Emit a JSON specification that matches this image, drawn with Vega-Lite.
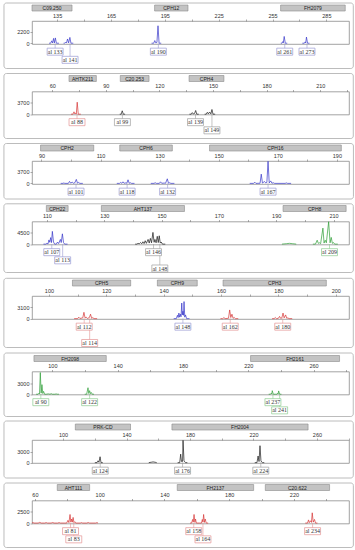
{
"$schema": "https://vega.github.io/schema/vega-lite/v6.json",
"background": "white",
"padding": {"left": 3, "top": 2, "right": 0, "bottom": 0},
"spacing": 2.5,
"config": {
  "view": {"stroke": "#8c8c8c", "strokeWidth": 0.8},
  "axis": {"labelFont": "Liberation Sans", "labelFontSize": 5.5, "labelColor": "#333", "tickColor": "#777", "tickSize": 2, "tickWidth": 0.6, "labelPadding": 1, "domain": false, "grid": false}
},
"datasets": {
"markers": [
{"p":1,"name":"C09.250","start":121.0,"end":143.3},{"p":1,"name":"CPH12","start":189.3,"end":207.9},{"p":1,"name":"FH2079","start":259.5,"end":295.5},
{"p":2,"name":"AHTK211","start":69.4,"end":84.7},{"p":2,"name":"C20.253","start":98.1,"end":114.2},{"p":2,"name":"CPH4","start":136.6,"end":156.1},
{"p":3,"name":"CPH2","start":89.7,"end":107.7},{"p":3,"name":"CPH6","start":116.5,"end":134.3},{"p":3,"name":"CPH16","start":146.9,"end":191.5},
{"p":4,"name":"CPH22","start":109.8,"end":117.4},{"p":4,"name":"AHT137","start":129.0,"end":158.0},{"p":4,"name":"CPH8","start":192.4,"end":214.4},
{"p":5,"name":"CPH5","start":108.2,"end":128.5},{"p":5,"name":"CPH9","start":137.8,"end":151.7},{"p":5,"name":"CPH3","start":160.7,"end":196.7},
{"p":6,"name":"FH2098","start":88.7,"end":133.0},{"p":6,"name":"FH2161","start":221.4,"end":275.9},
{"p":7,"name":"PRK-CD","start":107.7,"end":142.5},{"p":7,"name":"FH2004","start":168.6,"end":254.4},
{"p":8,"name":"AHT111","start":73.8,"end":93.8},{"p":8,"name":"FH2137","start":147.9,"end":195.1},{"p":8,"name":"C20.622","start":202.3,"end":242.0}
],
"alleles": [
{"p":1,"bp":133.9,"label":"al 133","row":1,"dye":"blue"},
{"p":1,"bp":142.2,"label":"al 141","row":2,"dye":"blue"},
{"p":1,"bp":191.4,"label":"al 190","row":1,"dye":"blue"},
{"p":1,"bp":261.8,"label":"al 261","row":1,"dye":"blue"},
{"p":1,"bp":274.2,"label":"al 273","row":1,"dye":"blue"},
{"p":2,"bp":73.9,"label":"al 88","row":1,"dye":"red"},
{"p":2,"bp":99.3,"label":"al 99","row":1,"dye":"black"},
{"p":2,"bp":140.2,"label":"al 139","row":1,"dye":"black"},
{"p":2,"bp":149.4,"label":"al 149","row":2,"dye":"black"},
{"p":3,"bp":101.7,"label":"al 101","row":1,"dye":"blue"},
{"p":3,"bp":119.0,"label":"al 118","row":1,"dye":"blue"},
{"p":3,"bp":132.7,"label":"al 132","row":1,"dye":"blue"},
{"p":3,"bp":166.7,"label":"al 167","row":1,"dye":"blue"},
{"p":4,"bp":111.7,"label":"al 107","row":1,"dye":"blue"},
{"p":4,"bp":115.5,"label":"al 113","row":2,"dye":"blue"},
{"p":4,"bp":147.2,"label":"al 146","row":1,"dye":"black"},
{"p":4,"bp":149.4,"label":"al 148","row":3,"dye":"black"},
{"p":4,"bp":208.6,"label":"al 209","row":1,"dye":"green"},
{"p":5,"bp":112.3,"label":"al 112","row":1,"dye":"red"},
{"p":5,"bp":114.2,"label":"al 114","row":3,"dye":"red"},
{"p":5,"bp":146.7,"label":"al 148","row":1,"dye":"blue"},
{"p":5,"bp":163.2,"label":"al 162","row":1,"dye":"red"},
{"p":5,"bp":181.5,"label":"al 180","row":1,"dye":"red"},
{"p":6,"bp":92.9,"label":"al 90","row":1,"dye":"green"},
{"p":6,"bp":122.8,"label":"al 122","row":1,"dye":"green"},
{"p":6,"bp":235.1,"label":"al 237","row":1,"dye":"green"},
{"p":6,"bp":239.2,"label":"al 241","row":2,"dye":"green"},
{"p":7,"bp":123.4,"label":"al 124","row":1,"dye":"black"},
{"p":7,"bp":175.3,"label":"al 176","row":1,"dye":"black"},
{"p":7,"bp":224.6,"label":"al 224","row":1,"dye":"black"},
{"p":8,"bp":82.0,"label":"al 81","row":1,"dye":"red"},
{"p":8,"bp":84.0,"label":"al 83","row":2,"dye":"red"},
{"p":8,"bp":158.1,"label":"al 158","row":1,"dye":"red"},
{"p":8,"bp":163.8,"label":"al 164","row":2,"dye":"red"},
{"p":8,"bp":231.5,"label":"al 234","row":1,"dye":"red"}
],
"trace": [
{"p":1,"c":"1a","dye":"blue","bp":130.5,"rfu":0},{"p":1,"c":"1a","dye":"blue","bp":131.4,"rfu":0},{"p":1,"c":"1a","dye":"blue","bp":132.0,"rfu":450},{"p":1,"c":"1a","dye":"blue","bp":132.5,"rfu":40},{"p":1,"c":"1a","dye":"blue","bp":133.0,"rfu":900},{"p":1,"c":"1a","dye":"blue","bp":133.5,"rfu":60},{"p":1,"c":"1a","dye":"blue","bp":134.0,"rfu":1000},{"p":1,"c":"1a","dye":"blue","bp":134.6,"rfu":0},{"p":1,"c":"1a","dye":"blue","bp":136.0,"rfu":0},
{"p":1,"c":"1b","dye":"blue","bp":138.6,"rfu":0},{"p":1,"c":"1b","dye":"blue","bp":139.2,"rfu":0},{"p":1,"c":"1b","dye":"blue","bp":139.7,"rfu":200},{"p":1,"c":"1b","dye":"blue","bp":140.2,"rfu":30},{"p":1,"c":"1b","dye":"blue","bp":140.8,"rfu":800},{"p":1,"c":"1b","dye":"blue","bp":141.4,"rfu":60},{"p":1,"c":"1b","dye":"blue","bp":142.1,"rfu":1100},{"p":1,"c":"1b","dye":"blue","bp":142.7,"rfu":0},{"p":1,"c":"1b","dye":"blue","bp":144.0,"rfu":0},
{"p":1,"c":"1c","dye":"blue","bp":187.6,"rfu":0},{"p":1,"c":"1c","dye":"blue","bp":188.8,"rfu":0},{"p":1,"c":"1c","dye":"blue","bp":189.4,"rfu":500},{"p":1,"c":"1c","dye":"blue","bp":190.0,"rfu":50},{"p":1,"c":"1c","dye":"blue","bp":190.6,"rfu":150},{"p":1,"c":"1c","dye":"blue","bp":191.2,"rfu":3300},{"p":1,"c":"1c","dye":"blue","bp":191.8,"rfu":0},{"p":1,"c":"1c","dye":"blue","bp":193.0,"rfu":0},
{"p":1,"c":"1d","dye":"blue","bp":259.6,"rfu":0},{"p":1,"c":"1d","dye":"blue","bp":260.2,"rfu":0},{"p":1,"c":"1d","dye":"blue","bp":260.7,"rfu":300},{"p":1,"c":"1d","dye":"blue","bp":261.0,"rfu":60},{"p":1,"c":"1d","dye":"blue","bp":261.5,"rfu":1280},{"p":1,"c":"1d","dye":"blue","bp":262.1,"rfu":0},{"p":1,"c":"1d","dye":"blue","bp":263.2,"rfu":0},
{"p":1,"c":"1e","dye":"blue","bp":271.6,"rfu":0},{"p":1,"c":"1e","dye":"blue","bp":272.7,"rfu":0},{"p":1,"c":"1e","dye":"blue","bp":273.2,"rfu":250},{"p":1,"c":"1e","dye":"blue","bp":273.5,"rfu":60},{"p":1,"c":"1e","dye":"blue","bp":273.9,"rfu":1160},{"p":1,"c":"1e","dye":"blue","bp":274.5,"rfu":0},{"p":1,"c":"1e","dye":"blue","bp":275.6,"rfu":0},
{"p":2,"c":"2a","dye":"red","bp":70.5,"rfu":0},{"p":2,"c":"2a","dye":"red","bp":71.6,"rfu":0},{"p":2,"c":"2a","dye":"red","bp":72.2,"rfu":750},{"p":2,"c":"2a","dye":"red","bp":72.7,"rfu":80},{"p":2,"c":"2a","dye":"red","bp":73.1,"rfu":400},{"p":2,"c":"2a","dye":"red","bp":73.5,"rfu":100},{"p":2,"c":"2a","dye":"red","bp":74.0,"rfu":3800},{"p":2,"c":"2a","dye":"red","bp":74.6,"rfu":0},{"p":2,"c":"2a","dye":"red","bp":76.0,"rfu":0},
{"p":2,"c":"2b","dye":"black","bp":97.8,"rfu":0},{"p":2,"c":"2b","dye":"black","bp":98.6,"rfu":0},{"p":2,"c":"2b","dye":"black","bp":99.2,"rfu":1080},{"p":2,"c":"2b","dye":"black","bp":99.8,"rfu":0},{"p":2,"c":"2b","dye":"black","bp":100.8,"rfu":0},
{"p":2,"c":"2c","dye":"black","bp":136.8,"rfu":0},{"p":2,"c":"2c","dye":"black","bp":137.8,"rfu":0},{"p":2,"c":"2c","dye":"black","bp":138.4,"rfu":500},{"p":2,"c":"2c","dye":"black","bp":139.0,"rfu":60},{"p":2,"c":"2c","dye":"black","bp":139.7,"rfu":250},{"p":2,"c":"2c","dye":"black","bp":140.3,"rfu":1170},{"p":2,"c":"2c","dye":"black","bp":140.9,"rfu":0},{"p":2,"c":"2c","dye":"black","bp":142.0,"rfu":0},
{"p":2,"c":"2d","dye":"black","bp":145.3,"rfu":0},{"p":2,"c":"2d","dye":"black","bp":146.2,"rfu":0},{"p":2,"c":"2d","dye":"black","bp":146.8,"rfu":600},{"p":2,"c":"2d","dye":"black","bp":147.4,"rfu":100},{"p":2,"c":"2d","dye":"black","bp":148.1,"rfu":700},{"p":2,"c":"2d","dye":"black","bp":148.8,"rfu":100},{"p":2,"c":"2d","dye":"black","bp":149.4,"rfu":1490},{"p":2,"c":"2d","dye":"black","bp":150.0,"rfu":0},{"p":2,"c":"2d","dye":"black","bp":151.2,"rfu":0},
{"p":3,"c":"3a","dye":"blue","bp":96.5,"rfu":0},{"p":3,"c":"3a","dye":"blue","bp":97.3,"rfu":0},{"p":3,"c":"3a","dye":"blue","bp":97.6,"rfu":150},{"p":3,"c":"3a","dye":"blue","bp":97.9,"rfu":0},{"p":3,"c":"3a","dye":"blue","bp":99.1,"rfu":0},{"p":3,"c":"3a","dye":"blue","bp":99.5,"rfu":640},{"p":3,"c":"3a","dye":"blue","bp":99.9,"rfu":80},{"p":3,"c":"3a","dye":"blue","bp":100.4,"rfu":400},{"p":3,"c":"3a","dye":"blue","bp":100.8,"rfu":50},{"p":3,"c":"3a","dye":"blue","bp":101.3,"rfu":200},{"p":3,"c":"3a","dye":"blue","bp":101.8,"rfu":1280},{"p":3,"c":"3a","dye":"blue","bp":102.2,"rfu":80},{"p":3,"c":"3a","dye":"blue","bp":102.6,"rfu":300},{"p":3,"c":"3a","dye":"blue","bp":103.0,"rfu":0},{"p":3,"c":"3a","dye":"blue","bp":104.0,"rfu":0},
{"p":3,"c":"3b","dye":"blue","bp":115.5,"rfu":0},{"p":3,"c":"3b","dye":"blue","bp":116.4,"rfu":0},{"p":3,"c":"3b","dye":"blue","bp":116.8,"rfu":300},{"p":3,"c":"3b","dye":"blue","bp":117.2,"rfu":50},{"p":3,"c":"3b","dye":"blue","bp":117.6,"rfu":500},{"p":3,"c":"3b","dye":"blue","bp":118.0,"rfu":60},{"p":3,"c":"3b","dye":"blue","bp":118.5,"rfu":150},{"p":3,"c":"3b","dye":"blue","bp":118.9,"rfu":80},{"p":3,"c":"3b","dye":"blue","bp":119.3,"rfu":1150},{"p":3,"c":"3b","dye":"blue","bp":119.7,"rfu":60},{"p":3,"c":"3b","dye":"blue","bp":120.1,"rfu":200},{"p":3,"c":"3b","dye":"blue","bp":120.5,"rfu":0},{"p":3,"c":"3b","dye":"blue","bp":121.5,"rfu":0},
{"p":3,"c":"3c","dye":"blue","bp":127.0,"rfu":0},{"p":3,"c":"3c","dye":"blue","bp":128.1,"rfu":0},{"p":3,"c":"3c","dye":"blue","bp":128.5,"rfu":200},{"p":3,"c":"3c","dye":"blue","bp":128.9,"rfu":0},{"p":3,"c":"3c","dye":"blue","bp":129.9,"rfu":0},{"p":3,"c":"3c","dye":"blue","bp":130.3,"rfu":500},{"p":3,"c":"3c","dye":"blue","bp":130.7,"rfu":40},{"p":3,"c":"3c","dye":"blue","bp":131.6,"rfu":100},{"p":3,"c":"3c","dye":"blue","bp":132.0,"rfu":40},{"p":3,"c":"3c","dye":"blue","bp":132.6,"rfu":1470},{"p":3,"c":"3c","dye":"blue","bp":133.0,"rfu":60},{"p":3,"c":"3c","dye":"blue","bp":133.4,"rfu":200},{"p":3,"c":"3c","dye":"blue","bp":133.8,"rfu":0},{"p":3,"c":"3c","dye":"blue","bp":135.0,"rfu":0},
{"p":3,"c":"3d","dye":"blue","bp":160.5,"rfu":0},{"p":3,"c":"3d","dye":"blue","bp":161.8,"rfu":0},{"p":3,"c":"3d","dye":"blue","bp":162.2,"rfu":400},{"p":3,"c":"3d","dye":"blue","bp":162.6,"rfu":0},{"p":3,"c":"3d","dye":"blue","bp":164.0,"rfu":50},{"p":3,"c":"3d","dye":"blue","bp":164.4,"rfu":2970},{"p":3,"c":"3d","dye":"blue","bp":164.8,"rfu":100},{"p":3,"c":"3d","dye":"blue","bp":165.5,"rfu":600},{"p":3,"c":"3d","dye":"blue","bp":165.9,"rfu":150},{"p":3,"c":"3d","dye":"blue","bp":166.3,"rfu":300},{"p":3,"c":"3d","dye":"blue","bp":166.7,"rfu":7100},{"p":3,"c":"3d","dye":"blue","bp":167.1,"rfu":150},{"p":3,"c":"3d","dye":"blue","bp":167.6,"rfu":800},{"p":3,"c":"3d","dye":"blue","bp":168.0,"rfu":60},{"p":3,"c":"3d","dye":"blue","bp":168.5,"rfu":200},{"p":3,"c":"3d","dye":"blue","bp":168.9,"rfu":0},{"p":3,"c":"3d","dye":"blue","bp":172.5,"rfu":0},{"p":3,"c":"3d","dye":"blue","bp":172.9,"rfu":150},{"p":3,"c":"3d","dye":"blue","bp":173.3,"rfu":0},{"p":3,"c":"3d","dye":"blue","bp":174.5,"rfu":0},
{"p":4,"c":"4a","dye":"blue","bp":108.8,"rfu":0},{"p":4,"c":"4a","dye":"blue","bp":109.6,"rfu":0},{"p":4,"c":"4a","dye":"blue","bp":110.0,"rfu":300},{"p":4,"c":"4a","dye":"blue","bp":110.4,"rfu":100},{"p":4,"c":"4a","dye":"blue","bp":110.7,"rfu":1600},{"p":4,"c":"4a","dye":"blue","bp":111.0,"rfu":700},{"p":4,"c":"4a","dye":"blue","bp":111.3,"rfu":2500},{"p":4,"c":"4a","dye":"blue","bp":111.6,"rfu":600},{"p":4,"c":"4a","dye":"blue","bp":111.9,"rfu":4900},{"p":4,"c":"4a","dye":"blue","bp":112.3,"rfu":800},{"p":4,"c":"4a","dye":"blue","bp":112.7,"rfu":0},{"p":4,"c":"4a","dye":"blue","bp":113.3,"rfu":0},{"p":4,"c":"4a","dye":"blue","bp":113.7,"rfu":800},{"p":4,"c":"4a","dye":"blue","bp":114.1,"rfu":200},{"p":4,"c":"4a","dye":"blue","bp":114.7,"rfu":1800},{"p":4,"c":"4a","dye":"blue","bp":115.0,"rfu":600},{"p":4,"c":"4a","dye":"blue","bp":115.4,"rfu":3960},{"p":4,"c":"4a","dye":"blue","bp":115.8,"rfu":600},{"p":4,"c":"4a","dye":"blue","bp":116.2,"rfu":0},{"p":4,"c":"4a","dye":"blue","bp":117.2,"rfu":0},
{"p":4,"c":"4b","dye":"black","bp":140.8,"rfu":0},{"p":4,"c":"4b","dye":"black","bp":141.4,"rfu":0},{"p":4,"c":"4b","dye":"black","bp":141.8,"rfu":300},{"p":4,"c":"4b","dye":"black","bp":142.2,"rfu":100},{"p":4,"c":"4b","dye":"black","bp":142.7,"rfu":600},{"p":4,"c":"4b","dye":"black","bp":143.1,"rfu":150},{"p":4,"c":"4b","dye":"black","bp":143.5,"rfu":900},{"p":4,"c":"4b","dye":"black","bp":143.9,"rfu":200},{"p":4,"c":"4b","dye":"black","bp":144.3,"rfu":1300},{"p":4,"c":"4b","dye":"black","bp":144.7,"rfu":300},{"p":4,"c":"4b","dye":"black","bp":145.3,"rfu":1800},{"p":4,"c":"4b","dye":"black","bp":145.7,"rfu":400},{"p":4,"c":"4b","dye":"black","bp":146.1,"rfu":2200},{"p":4,"c":"4b","dye":"black","bp":146.5,"rfu":500},{"p":4,"c":"4b","dye":"black","bp":147.0,"rfu":4500},{"p":4,"c":"4b","dye":"black","bp":147.4,"rfu":700},{"p":4,"c":"4b","dye":"black","bp":147.7,"rfu":1800},{"p":4,"c":"4b","dye":"black","bp":148.1,"rfu":500},{"p":4,"c":"4b","dye":"black","bp":148.5,"rfu":3000},{"p":4,"c":"4b","dye":"black","bp":148.85,"rfu":600},{"p":4,"c":"4b","dye":"black","bp":149.2,"rfu":3200},{"p":4,"c":"4b","dye":"black","bp":149.55,"rfu":400},{"p":4,"c":"4b","dye":"black","bp":149.9,"rfu":800},{"p":4,"c":"4b","dye":"black","bp":150.3,"rfu":0},{"p":4,"c":"4b","dye":"black","bp":151.3,"rfu":0},
{"p":4,"c":"4c","dye":"green","bp":192.0,"rfu":0},{"p":4,"c":"4c","dye":"green","bp":193.5,"rfu":150},{"p":4,"c":"4c","dye":"green","bp":194.6,"rfu":300},{"p":4,"c":"4c","dye":"green","bp":195.8,"rfu":150},{"p":4,"c":"4c","dye":"green","bp":197.0,"rfu":0},
{"p":4,"c":"4d","dye":"green","bp":202.8,"rfu":0},{"p":4,"c":"4d","dye":"green","bp":203.7,"rfu":0},{"p":4,"c":"4d","dye":"green","bp":204.3,"rfu":1500},{"p":4,"c":"4d","dye":"green","bp":204.7,"rfu":300},{"p":4,"c":"4d","dye":"green","bp":205.1,"rfu":500},{"p":4,"c":"4d","dye":"green","bp":205.5,"rfu":200},{"p":4,"c":"4d","dye":"green","bp":206.3,"rfu":6160},{"p":4,"c":"4d","dye":"green","bp":206.7,"rfu":400},{"p":4,"c":"4d","dye":"green","bp":207.1,"rfu":1500},{"p":4,"c":"4d","dye":"green","bp":207.5,"rfu":500},{"p":4,"c":"4d","dye":"green","bp":208.3,"rfu":8600},{"p":4,"c":"4d","dye":"green","bp":208.8,"rfu":500},{"p":4,"c":"4d","dye":"green","bp":209.2,"rfu":2580},{"p":4,"c":"4d","dye":"green","bp":209.6,"rfu":300},{"p":4,"c":"4d","dye":"green","bp":210.0,"rfu":600},{"p":4,"c":"4d","dye":"green","bp":210.4,"rfu":0},{"p":4,"c":"4d","dye":"green","bp":211.5,"rfu":0},
{"p":5,"c":"5a","dye":"red","bp":108.8,"rfu":0},{"p":5,"c":"5a","dye":"red","bp":110.0,"rfu":0},{"p":5,"c":"5a","dye":"red","bp":110.4,"rfu":400},{"p":5,"c":"5a","dye":"red","bp":110.8,"rfu":50},{"p":5,"c":"5a","dye":"red","bp":111.8,"rfu":200},{"p":5,"c":"5a","dye":"red","bp":112.2,"rfu":1700},{"p":5,"c":"5a","dye":"red","bp":112.6,"rfu":200},{"p":5,"c":"5a","dye":"red","bp":113.0,"rfu":400},{"p":5,"c":"5a","dye":"red","bp":113.4,"rfu":50},{"p":5,"c":"5a","dye":"red","bp":114.1,"rfu":300},{"p":5,"c":"5a","dye":"red","bp":114.5,"rfu":1200},{"p":5,"c":"5a","dye":"red","bp":114.9,"rfu":80},{"p":5,"c":"5a","dye":"red","bp":115.3,"rfu":300},{"p":5,"c":"5a","dye":"red","bp":115.7,"rfu":0},{"p":5,"c":"5a","dye":"red","bp":116.8,"rfu":0},
{"p":5,"c":"5b","dye":"blue","bp":143.5,"rfu":0},{"p":5,"c":"5b","dye":"blue","bp":144.4,"rfu":0},{"p":5,"c":"5b","dye":"blue","bp":144.8,"rfu":900},{"p":5,"c":"5b","dye":"blue","bp":145.05,"rfu":300},{"p":5,"c":"5b","dye":"blue","bp":145.3,"rfu":1500},{"p":5,"c":"5b","dye":"blue","bp":145.55,"rfu":400},{"p":5,"c":"5b","dye":"blue","bp":145.8,"rfu":1200},{"p":5,"c":"5b","dye":"blue","bp":146.05,"rfu":500},{"p":5,"c":"5b","dye":"blue","bp":146.3,"rfu":4200},{"p":5,"c":"5b","dye":"blue","bp":146.5,"rfu":1000},{"p":5,"c":"5b","dye":"blue","bp":146.7,"rfu":2000},{"p":5,"c":"5b","dye":"blue","bp":146.9,"rfu":900},{"p":5,"c":"5b","dye":"blue","bp":147.1,"rfu":4600},{"p":5,"c":"5b","dye":"blue","bp":147.35,"rfu":400},{"p":5,"c":"5b","dye":"blue","bp":147.6,"rfu":1000},{"p":5,"c":"5b","dye":"blue","bp":148.0,"rfu":0},{"p":5,"c":"5b","dye":"blue","bp":149.0,"rfu":0},
{"p":5,"c":"5c","dye":"red","bp":159.8,"rfu":0},{"p":5,"c":"5c","dye":"red","bp":160.6,"rfu":0},{"p":5,"c":"5c","dye":"red","bp":161.0,"rfu":300},{"p":5,"c":"5c","dye":"red","bp":161.4,"rfu":0},{"p":5,"c":"5c","dye":"red","bp":162.6,"rfu":100},{"p":5,"c":"5c","dye":"red","bp":163.0,"rfu":2340},{"p":5,"c":"5c","dye":"red","bp":163.4,"rfu":300},{"p":5,"c":"5c","dye":"red","bp":163.8,"rfu":1200},{"p":5,"c":"5c","dye":"red","bp":164.2,"rfu":100},{"p":5,"c":"5c","dye":"red","bp":164.6,"rfu":300},{"p":5,"c":"5c","dye":"red","bp":165.0,"rfu":0},{"p":5,"c":"5c","dye":"red","bp":166.0,"rfu":0},
{"p":5,"c":"5d","dye":"red","bp":177.8,"rfu":0},{"p":5,"c":"5d","dye":"red","bp":178.5,"rfu":0},{"p":5,"c":"5d","dye":"red","bp":178.9,"rfu":300},{"p":5,"c":"5d","dye":"red","bp":179.3,"rfu":0},{"p":5,"c":"5d","dye":"red","bp":180.0,"rfu":100},{"p":5,"c":"5d","dye":"red","bp":180.4,"rfu":600},{"p":5,"c":"5d","dye":"red","bp":180.8,"rfu":60},{"p":5,"c":"5d","dye":"red","bp":181.2,"rfu":200},{"p":5,"c":"5d","dye":"red","bp":181.6,"rfu":1500},{"p":5,"c":"5d","dye":"red","bp":182.0,"rfu":200},{"p":5,"c":"5d","dye":"red","bp":182.5,"rfu":1000},{"p":5,"c":"5d","dye":"red","bp":182.9,"rfu":100},{"p":5,"c":"5d","dye":"red","bp":183.3,"rfu":200},{"p":5,"c":"5d","dye":"red","bp":183.7,"rfu":0},{"p":5,"c":"5d","dye":"red","bp":184.8,"rfu":0},
{"p":6,"c":"6a","dye":"green","bp":90.0,"rfu":0},{"p":6,"c":"6a","dye":"green","bp":91.2,"rfu":0},{"p":6,"c":"6a","dye":"green","bp":91.8,"rfu":300},{"p":6,"c":"6a","dye":"green","bp":92.1,"rfu":100},{"p":6,"c":"6a","dye":"green","bp":92.6,"rfu":6100},{"p":6,"c":"6a","dye":"green","bp":93.1,"rfu":300},{"p":6,"c":"6a","dye":"green","bp":93.6,"rfu":2700},{"p":6,"c":"6a","dye":"green","bp":94.1,"rfu":200},{"p":6,"c":"6a","dye":"green","bp":94.6,"rfu":800},{"p":6,"c":"6a","dye":"green","bp":95.2,"rfu":0},{"p":6,"c":"6a","dye":"green","bp":96.2,"rfu":0},{"p":6,"c":"6a","dye":"green","bp":97.5,"rfu":100},{"p":6,"c":"6a","dye":"green","bp":98.5,"rfu":0},{"p":6,"c":"6a","dye":"green","bp":99.3,"rfu":150},{"p":6,"c":"6a","dye":"green","bp":100.0,"rfu":0},{"p":6,"c":"6a","dye":"green","bp":101.5,"rfu":0},{"p":6,"c":"6a","dye":"green","bp":102.3,"rfu":80},{"p":6,"c":"6a","dye":"green","bp":103.0,"rfu":0},{"p":6,"c":"6a","dye":"green","bp":104.0,"rfu":0},
{"p":6,"c":"6b","dye":"green","bp":119.8,"rfu":0},{"p":6,"c":"6b","dye":"green","bp":121.0,"rfu":0},{"p":6,"c":"6b","dye":"green","bp":121.8,"rfu":1830},{"p":6,"c":"6b","dye":"green","bp":122.3,"rfu":200},{"p":6,"c":"6b","dye":"green","bp":122.8,"rfu":1000},{"p":6,"c":"6b","dye":"green","bp":123.3,"rfu":150},{"p":6,"c":"6b","dye":"green","bp":123.8,"rfu":500},{"p":6,"c":"6b","dye":"green","bp":124.4,"rfu":0},{"p":6,"c":"6b","dye":"green","bp":125.5,"rfu":0},
{"p":6,"c":"6c","dye":"green","bp":232.5,"rfu":0},{"p":6,"c":"6c","dye":"green","bp":233.6,"rfu":0},{"p":6,"c":"6c","dye":"green","bp":234.1,"rfu":300},{"p":6,"c":"6c","dye":"green","bp":234.4,"rfu":100},{"p":6,"c":"6c","dye":"green","bp":234.7,"rfu":1000},{"p":6,"c":"6c","dye":"green","bp":235.3,"rfu":0},{"p":6,"c":"6c","dye":"green","bp":236.8,"rfu":0},{"p":6,"c":"6c","dye":"green","bp":237.5,"rfu":0},{"p":6,"c":"6c","dye":"green","bp":238.0,"rfu":300},{"p":6,"c":"6c","dye":"green","bp":238.3,"rfu":100},{"p":6,"c":"6c","dye":"green","bp":238.6,"rfu":930},{"p":6,"c":"6c","dye":"green","bp":239.2,"rfu":0},{"p":6,"c":"6c","dye":"green","bp":240.3,"rfu":0},
{"p":7,"c":"7a","dye":"black","bp":120.0,"rfu":0},{"p":7,"c":"7a","dye":"black","bp":121.4,"rfu":0},{"p":7,"c":"7a","dye":"black","bp":122.0,"rfu":500},{"p":7,"c":"7a","dye":"black","bp":122.6,"rfu":100},{"p":7,"c":"7a","dye":"black","bp":123.3,"rfu":1600},{"p":7,"c":"7a","dye":"black","bp":123.9,"rfu":0},{"p":7,"c":"7a","dye":"black","bp":125.0,"rfu":0},
{"p":7,"c":"7b","dye":"black","bp":154.0,"rfu":0},{"p":7,"c":"7b","dye":"black","bp":155.5,"rfu":100},{"p":7,"c":"7b","dye":"black","bp":156.7,"rfu":200},{"p":7,"c":"7b","dye":"black","bp":158.0,"rfu":100},{"p":7,"c":"7b","dye":"black","bp":159.0,"rfu":0},
{"p":7,"c":"7c","dye":"black","bp":172.2,"rfu":0},{"p":7,"c":"7c","dye":"black","bp":173.5,"rfu":0},{"p":7,"c":"7c","dye":"black","bp":174.1,"rfu":2300},{"p":7,"c":"7c","dye":"black","bp":174.6,"rfu":300},{"p":7,"c":"7c","dye":"black","bp":175.0,"rfu":500},{"p":7,"c":"7c","dye":"black","bp":175.3,"rfu":300},{"p":7,"c":"7c","dye":"black","bp":175.6,"rfu":6050},{"p":7,"c":"7c","dye":"black","bp":176.2,"rfu":600},{"p":7,"c":"7c","dye":"black","bp":176.7,"rfu":200},{"p":7,"c":"7c","dye":"black","bp":177.2,"rfu":0},{"p":7,"c":"7c","dye":"black","bp":178.3,"rfu":0},
{"p":7,"c":"7d","dye":"black","bp":220.8,"rfu":0},{"p":7,"c":"7d","dye":"black","bp":222.2,"rfu":0},{"p":7,"c":"7d","dye":"black","bp":222.9,"rfu":1800},{"p":7,"c":"7d","dye":"black","bp":223.5,"rfu":300},{"p":7,"c":"7d","dye":"black","bp":224.1,"rfu":4600},{"p":7,"c":"7d","dye":"black","bp":224.7,"rfu":500},{"p":7,"c":"7d","dye":"black","bp":225.2,"rfu":150},{"p":7,"c":"7d","dye":"black","bp":225.7,"rfu":0},{"p":7,"c":"7d","dye":"black","bp":226.8,"rfu":0},
{"p":8,"c":"8a","dye":"red","bp":58.2,"rfu":0},{"p":8,"c":"8a","dye":"red","bp":58.8,"rfu":120},{"p":8,"c":"8a","dye":"red","bp":59.4,"rfu":0},{"p":8,"c":"8a","dye":"red","bp":62.0,"rfu":0},{"p":8,"c":"8a","dye":"red","bp":63.0,"rfu":150},{"p":8,"c":"8a","dye":"red","bp":63.9,"rfu":0},{"p":8,"c":"8a","dye":"red","bp":66.0,"rfu":0},{"p":8,"c":"8a","dye":"red","bp":67.0,"rfu":100},{"p":8,"c":"8a","dye":"red","bp":67.8,"rfu":0},{"p":8,"c":"8a","dye":"red","bp":70.0,"rfu":0},{"p":8,"c":"8a","dye":"red","bp":71.0,"rfu":120},{"p":8,"c":"8a","dye":"red","bp":71.8,"rfu":0},{"p":8,"c":"8a","dye":"red","bp":74.0,"rfu":0},{"p":8,"c":"8a","dye":"red","bp":75.0,"rfu":100},{"p":8,"c":"8a","dye":"red","bp":75.8,"rfu":0},{"p":8,"c":"8a","dye":"red","bp":78.5,"rfu":0},{"p":8,"c":"8a","dye":"red","bp":79.6,"rfu":0},{"p":8,"c":"8a","dye":"red","bp":80.4,"rfu":600},{"p":8,"c":"8a","dye":"red","bp":81.0,"rfu":100},{"p":8,"c":"8a","dye":"red","bp":81.7,"rfu":1900},{"p":8,"c":"8a","dye":"red","bp":82.2,"rfu":200},{"p":8,"c":"8a","dye":"red","bp":82.7,"rfu":900},{"p":8,"c":"8a","dye":"red","bp":83.1,"rfu":200},{"p":8,"c":"8a","dye":"red","bp":83.6,"rfu":1250},{"p":8,"c":"8a","dye":"red","bp":84.1,"rfu":100},{"p":8,"c":"8a","dye":"red","bp":84.6,"rfu":300},{"p":8,"c":"8a","dye":"red","bp":85.2,"rfu":0},{"p":8,"c":"8a","dye":"red","bp":88.0,"rfu":0},{"p":8,"c":"8a","dye":"red","bp":88.8,"rfu":100},{"p":8,"c":"8a","dye":"red","bp":89.5,"rfu":0},{"p":8,"c":"8a","dye":"red","bp":92.0,"rfu":0},{"p":8,"c":"8a","dye":"red","bp":93.0,"rfu":120},{"p":8,"c":"8a","dye":"red","bp":93.8,"rfu":0},{"p":8,"c":"8a","dye":"red","bp":97.5,"rfu":0},{"p":8,"c":"8a","dye":"red","bp":98.3,"rfu":90},{"p":8,"c":"8a","dye":"red","bp":99.0,"rfu":0},
{"p":8,"c":"8b","dye":"red","bp":155.8,"rfu":0},{"p":8,"c":"8b","dye":"red","bp":156.8,"rfu":0},{"p":8,"c":"8b","dye":"red","bp":157.4,"rfu":800},{"p":8,"c":"8b","dye":"red","bp":157.8,"rfu":200},{"p":8,"c":"8b","dye":"red","bp":158.3,"rfu":1900},{"p":8,"c":"8b","dye":"red","bp":158.8,"rfu":150},{"p":8,"c":"8b","dye":"red","bp":159.2,"rfu":900},{"p":8,"c":"8b","dye":"red","bp":159.7,"rfu":0},{"p":8,"c":"8b","dye":"red","bp":161.5,"rfu":0},{"p":8,"c":"8b","dye":"red","bp":162.9,"rfu":0},{"p":8,"c":"8b","dye":"red","bp":163.4,"rfu":800},{"p":8,"c":"8b","dye":"red","bp":163.8,"rfu":200},{"p":8,"c":"8b","dye":"red","bp":164.2,"rfu":1900},{"p":8,"c":"8b","dye":"red","bp":164.7,"rfu":150},{"p":8,"c":"8b","dye":"red","bp":165.2,"rfu":900},{"p":8,"c":"8b","dye":"red","bp":165.8,"rfu":0},{"p":8,"c":"8b","dye":"red","bp":167.0,"rfu":0},
{"p":8,"c":"8c","dye":"red","bp":227.0,"rfu":0},{"p":8,"c":"8c","dye":"red","bp":228.4,"rfu":0},{"p":8,"c":"8c","dye":"red","bp":229.0,"rfu":700},{"p":8,"c":"8c","dye":"red","bp":229.5,"rfu":100},{"p":8,"c":"8c","dye":"red","bp":230.3,"rfu":500},{"p":8,"c":"8c","dye":"red","bp":230.8,"rfu":150},{"p":8,"c":"8c","dye":"red","bp":231.3,"rfu":2270},{"p":8,"c":"8c","dye":"red","bp":231.9,"rfu":200},{"p":8,"c":"8c","dye":"red","bp":232.7,"rfu":800},{"p":8,"c":"8c","dye":"red","bp":233.3,"rfu":0},{"p":8,"c":"8c","dye":"red","bp":234.5,"rfu":0}
]
},
"vconcat": [
{"width":317,"height":23,"resolve":{"scale":{"y":"independent"}},"layer":[
{"data":{"values":[{"k":1}]},"transform":[{"calculate":"105.4","as":"x0"},{"calculate":"300.0","as":"x1"},{"calculate":"0","as":"t0"},{"calculate":"1","as":"t1"}],"mark":{"type":"rect","filled":false,"stroke":"#b4b4b4","strokeWidth":0.9,"cornerRadius":2.5},"encoding":{"x":{"field":"x0","type":"quantitative","scale":{"domain":[121,297.6],"nice":false,"zero":false},"axis":{"orient":"top","values":[135,150,165,180,195,210,225,240,255,270,285],"labelExpr":"(datum.value - 135) % 30 == 0 ? datum.label : ''","title":null,"labelFlush":false,"labelOverlap":false}},"x2":{"field":"x1"},"y":{"field":"t0","type":"quantitative","scale":{"domain":[0,1],"range":[-18,47.5]},"axis":null},"y2":{"field":"t1"}}},
{"data":{"name":"markers"},"transform":[{"filter":"datum.p == 1"},{"calculate":"0","as":"t0"},{"calculate":"1","as":"t1"}],"mark":{"type":"rect","fill":"#c3c3c3","stroke":"#8a8a8a","strokeWidth":0.6},"encoding":{"x":{"field":"start","type":"quantitative","scale":{"domain":[121,297.6],"nice":false,"zero":false},"axis":{"orient":"top","values":[135,150,165,180,195,210,225,240,255,270,285],"labelExpr":"(datum.value - 135) % 30 == 0 ? datum.label : ''","title":null,"labelFlush":false,"labelOverlap":false}},"x2":{"field":"end"},"y":{"field":"t0","type":"quantitative","scale":{"domain":[0,1],"range":[-16,-10]},"axis":null},"y2":{"field":"t1"}}},
{"data":{"name":"markers"},"transform":[{"filter":"datum.p == 1"},{"calculate":"(datum.start + datum.end) / 2","as":"mid"},{"calculate":"0.5","as":"tm"}],"mark":{"type":"text","font":"Liberation Sans","fontSize":5,"color":"#222","baseline":"middle"},"encoding":{"x":{"field":"mid","type":"quantitative","scale":{"domain":[121,297.6],"nice":false,"zero":false},"axis":{"orient":"top","values":[135,150,165,180,195,210,225,240,255,270,285],"labelExpr":"(datum.value - 135) % 30 == 0 ? datum.label : ''","title":null,"labelFlush":false,"labelOverlap":false}},"y":{"field":"tm","type":"quantitative","scale":{"domain":[0,1],"range":[-16,-10]},"axis":null},"text":{"field":"name","type":"nominal"}}},
{"data":{"name":"trace"},"transform":[{"filter":"datum.p == 1"}],"mark":{"type":"line","strokeWidth":0.7},"encoding":{"x":{"field":"bp","type":"quantitative","scale":{"domain":[121,297.6],"nice":false,"zero":false},"axis":{"orient":"top","values":[135,150,165,180,195,210,225,240,255,270,285],"labelExpr":"(datum.value - 135) % 30 == 0 ? datum.label : ''","title":null,"labelFlush":false,"labelOverlap":false}},"y":{"field":"rfu","type":"quantitative","scale":{"domain":[-150,4200],"nice":false,"zero":false},"axis":{"values":[0,2200],"format":"d","title":null,"labelOverlap":false}},"color":{"field":"dye","type":"nominal","scale":{"domain":["blue","red","black","green"],"range":["#3535c8","#d63333","#1a1a1a","#2e9e36"]},"legend":null},"detail":{"field":"c","type":"nominal"}}},
{"data":{"name":"alleles"},"transform":[{"filter":"datum.p == 1"},{"calculate":"0","as":"base"}],"mark":{"type":"rule","strokeWidth":0.6},"encoding":{"x":{"field":"bp","type":"quantitative","scale":{"domain":[121,297.6],"nice":false,"zero":false},"axis":{"orient":"top","values":[135,150,165,180,195,210,225,240,255,270,285],"labelExpr":"(datum.value - 135) % 30 == 0 ? datum.label : ''","title":null,"labelFlush":false,"labelOverlap":false}},"y":{"field":"row","type":"quantitative","scale":{"domain":[0,3],"range":[22.5,47]},"axis":null},"y2":{"field":"base"},"stroke":{"field":"dye","type":"nominal","scale":{"domain":["blue","red","black","green"],"range":["#9a9ad2","#e49494","#9e9e9e","#8ccb90"]},"legend":null}}},
{"data":{"name":"alleles"},"transform":[{"filter":"datum.p == 1"}],"mark":{"type":"point","shape":"M-1,-0.44L1,-0.44L1,0.44L-1,0.44Z","filled":true,"fill":"white","fillOpacity":1,"opacity":1,"strokeWidth":0.7,"size":255},"encoding":{"x":{"field":"bp","type":"quantitative","scale":{"domain":[121,297.6],"nice":false,"zero":false},"axis":{"orient":"top","values":[135,150,165,180,195,210,225,240,255,270,285],"labelExpr":"(datum.value - 135) % 30 == 0 ? datum.label : ''","title":null,"labelFlush":false,"labelOverlap":false}},"y":{"field":"row","type":"quantitative","scale":{"domain":[0,3],"range":[22.5,47]},"axis":null},"stroke":{"field":"dye","type":"nominal","scale":{"domain":["blue","red","black","green"],"range":["#9a9ad2","#e49494","#9e9e9e","#8ccb90"]},"legend":null}}},
{"data":{"name":"alleles"},"transform":[{"filter":"datum.p == 1"}],"mark":{"type":"text","font":"Liberation Serif","fontSize":6,"color":"#333","baseline":"middle"},"encoding":{"x":{"field":"bp","type":"quantitative","scale":{"domain":[121,297.6],"nice":false,"zero":false},"axis":{"orient":"top","values":[135,150,165,180,195,210,225,240,255,270,285],"labelExpr":"(datum.value - 135) % 30 == 0 ? datum.label : ''","title":null,"labelFlush":false,"labelOverlap":false}},"y":{"field":"row","type":"quantitative","scale":{"domain":[0,3],"range":[22.5,47]},"axis":null},"text":{"field":"label","type":"nominal"}}}
]},
{"width":317,"height":23,"resolve":{"scale":{"y":"independent"}},"layer":[
{"data":{"values":[{"k":1}]},"transform":[{"calculate":"33.0","as":"x0"},{"calculate":"228.5","as":"x1"},{"calculate":"0","as":"t0"},{"calculate":"1","as":"t1"}],"mark":{"type":"rect","filled":false,"stroke":"#b4b4b4","strokeWidth":0.9,"cornerRadius":2.5},"encoding":{"x":{"field":"x0","type":"quantitative","scale":{"domain":[48.7,226.1],"nice":false,"zero":false},"axis":{"orient":"top","values":[60,75,90,105,120,135,150,165,180,195,210,225],"labelExpr":"datum.value % 30 == 0 ? datum.label : ''","title":null,"labelFlush":false,"labelOverlap":false}},"x2":{"field":"x1"},"y":{"field":"t0","type":"quantitative","scale":{"domain":[0,1],"range":[-18,47]},"axis":null},"y2":{"field":"t1"}}},
{"data":{"name":"markers"},"transform":[{"filter":"datum.p == 2"},{"calculate":"0","as":"t0"},{"calculate":"1","as":"t1"}],"mark":{"type":"rect","fill":"#c3c3c3","stroke":"#8a8a8a","strokeWidth":0.6},"encoding":{"x":{"field":"start","type":"quantitative","scale":{"domain":[48.7,226.1],"nice":false,"zero":false},"axis":{"orient":"top","values":[60,75,90,105,120,135,150,165,180,195,210,225],"labelExpr":"datum.value % 30 == 0 ? datum.label : ''","title":null,"labelFlush":false,"labelOverlap":false}},"x2":{"field":"end"},"y":{"field":"t0","type":"quantitative","scale":{"domain":[0,1],"range":[-16,-10]},"axis":null},"y2":{"field":"t1"}}},
{"data":{"name":"markers"},"transform":[{"filter":"datum.p == 2"},{"calculate":"(datum.start + datum.end) / 2","as":"mid"},{"calculate":"0.5","as":"tm"}],"mark":{"type":"text","font":"Liberation Sans","fontSize":5,"color":"#222","baseline":"middle"},"encoding":{"x":{"field":"mid","type":"quantitative","scale":{"domain":[48.7,226.1],"nice":false,"zero":false},"axis":{"orient":"top","values":[60,75,90,105,120,135,150,165,180,195,210,225],"labelExpr":"datum.value % 30 == 0 ? datum.label : ''","title":null,"labelFlush":false,"labelOverlap":false}},"y":{"field":"tm","type":"quantitative","scale":{"domain":[0,1],"range":[-16,-10]},"axis":null},"text":{"field":"name","type":"nominal"}}},
{"data":{"name":"trace"},"transform":[{"filter":"datum.p == 2"}],"mark":{"type":"line","strokeWidth":0.7},"encoding":{"x":{"field":"bp","type":"quantitative","scale":{"domain":[48.7,226.1],"nice":false,"zero":false},"axis":{"orient":"top","values":[60,75,90,105,120,135,150,165,180,195,210,225],"labelExpr":"datum.value % 30 == 0 ? datum.label : ''","title":null,"labelFlush":false,"labelOverlap":false}},"y":{"field":"rfu","type":"quantitative","scale":{"domain":[-100,7200],"nice":false,"zero":false},"axis":{"values":[0,3700],"format":"d","title":null,"labelOverlap":false}},"color":{"field":"dye","type":"nominal","scale":{"domain":["blue","red","black","green"],"range":["#3535c8","#d63333","#1a1a1a","#2e9e36"]},"legend":null},"detail":{"field":"c","type":"nominal"}}},
{"data":{"name":"alleles"},"transform":[{"filter":"datum.p == 2"},{"calculate":"0","as":"base"}],"mark":{"type":"rule","strokeWidth":0.6},"encoding":{"x":{"field":"bp","type":"quantitative","scale":{"domain":[48.7,226.1],"nice":false,"zero":false},"axis":{"orient":"top","values":[60,75,90,105,120,135,150,165,180,195,210,225],"labelExpr":"datum.value % 30 == 0 ? datum.label : ''","title":null,"labelFlush":false,"labelOverlap":false}},"y":{"field":"row","type":"quantitative","scale":{"domain":[0,3],"range":[22.5,47]},"axis":null},"y2":{"field":"base"},"stroke":{"field":"dye","type":"nominal","scale":{"domain":["blue","red","black","green"],"range":["#9a9ad2","#e49494","#9e9e9e","#8ccb90"]},"legend":null}}},
{"data":{"name":"alleles"},"transform":[{"filter":"datum.p == 2"}],"mark":{"type":"point","shape":"M-1,-0.44L1,-0.44L1,0.44L-1,0.44Z","filled":true,"fill":"white","fillOpacity":1,"opacity":1,"strokeWidth":0.7,"size":255},"encoding":{"x":{"field":"bp","type":"quantitative","scale":{"domain":[48.7,226.1],"nice":false,"zero":false},"axis":{"orient":"top","values":[60,75,90,105,120,135,150,165,180,195,210,225],"labelExpr":"datum.value % 30 == 0 ? datum.label : ''","title":null,"labelFlush":false,"labelOverlap":false}},"y":{"field":"row","type":"quantitative","scale":{"domain":[0,3],"range":[22.5,47]},"axis":null},"stroke":{"field":"dye","type":"nominal","scale":{"domain":["blue","red","black","green"],"range":["#9a9ad2","#e49494","#9e9e9e","#8ccb90"]},"legend":null}}},
{"data":{"name":"alleles"},"transform":[{"filter":"datum.p == 2"}],"mark":{"type":"text","font":"Liberation Serif","fontSize":6,"color":"#333","baseline":"middle"},"encoding":{"x":{"field":"bp","type":"quantitative","scale":{"domain":[48.7,226.1],"nice":false,"zero":false},"axis":{"orient":"top","values":[60,75,90,105,120,135,150,165,180,195,210,225],"labelExpr":"datum.value % 30 == 0 ? datum.label : ''","title":null,"labelFlush":false,"labelOverlap":false}},"y":{"field":"row","type":"quantitative","scale":{"domain":[0,3],"range":[22.5,47]},"axis":null},"text":{"field":"label","type":"nominal"}}}
]},
{"width":317,"height":23,"resolve":{"scale":{"y":"independent"}},"layer":[
{"data":{"values":[{"k":1}]},"transform":[{"calculate":"77.3","as":"x0"},{"calculate":"195.6","as":"x1"},{"calculate":"0","as":"t0"},{"calculate":"1","as":"t1"}],"mark":{"type":"rect","filled":false,"stroke":"#b4b4b4","strokeWidth":0.9,"cornerRadius":2.5},"encoding":{"x":{"field":"x0","type":"quantitative","scale":{"domain":[86.8,194.1],"nice":false,"zero":false},"axis":{"orient":"top","values":[90,100,110,120,130,140,150,160,170,180,190],"labelExpr":"(datum.value - 90) % 20 == 0 ? datum.label : ''","title":null,"labelFlush":false,"labelOverlap":false}},"x2":{"field":"x1"},"y":{"field":"t0","type":"quantitative","scale":{"domain":[0,1],"range":[-17.5,38]},"axis":null},"y2":{"field":"t1"}}},
{"data":{"name":"markers"},"transform":[{"filter":"datum.p == 3"},{"calculate":"0","as":"t0"},{"calculate":"1","as":"t1"}],"mark":{"type":"rect","fill":"#c3c3c3","stroke":"#8a8a8a","strokeWidth":0.6},"encoding":{"x":{"field":"start","type":"quantitative","scale":{"domain":[86.8,194.1],"nice":false,"zero":false},"axis":{"orient":"top","values":[90,100,110,120,130,140,150,160,170,180,190],"labelExpr":"(datum.value - 90) % 20 == 0 ? datum.label : ''","title":null,"labelFlush":false,"labelOverlap":false}},"x2":{"field":"end"},"y":{"field":"t0","type":"quantitative","scale":{"domain":[0,1],"range":[-16,-10]},"axis":null},"y2":{"field":"t1"}}},
{"data":{"name":"markers"},"transform":[{"filter":"datum.p == 3"},{"calculate":"(datum.start + datum.end) / 2","as":"mid"},{"calculate":"0.5","as":"tm"}],"mark":{"type":"text","font":"Liberation Sans","fontSize":5,"color":"#222","baseline":"middle"},"encoding":{"x":{"field":"mid","type":"quantitative","scale":{"domain":[86.8,194.1],"nice":false,"zero":false},"axis":{"orient":"top","values":[90,100,110,120,130,140,150,160,170,180,190],"labelExpr":"(datum.value - 90) % 20 == 0 ? datum.label : ''","title":null,"labelFlush":false,"labelOverlap":false}},"y":{"field":"tm","type":"quantitative","scale":{"domain":[0,1],"range":[-16,-10]},"axis":null},"text":{"field":"name","type":"nominal"}}},
{"data":{"name":"trace"},"transform":[{"filter":"datum.p == 3"}],"mark":{"type":"line","strokeWidth":0.7},"encoding":{"x":{"field":"bp","type":"quantitative","scale":{"domain":[86.8,194.1],"nice":false,"zero":false},"axis":{"orient":"top","values":[90,100,110,120,130,140,150,160,170,180,190],"labelExpr":"(datum.value - 90) % 20 == 0 ? datum.label : ''","title":null,"labelFlush":false,"labelOverlap":false}},"y":{"field":"rfu","type":"quantitative","scale":{"domain":[-200,7200],"nice":false,"zero":false},"axis":{"values":[0,3700],"format":"d","title":null,"labelOverlap":false}},"color":{"field":"dye","type":"nominal","scale":{"domain":["blue","red","black","green"],"range":["#3535c8","#d63333","#1a1a1a","#2e9e36"]},"legend":null},"detail":{"field":"c","type":"nominal"}}},
{"data":{"name":"alleles"},"transform":[{"filter":"datum.p == 3"},{"calculate":"0","as":"base"}],"mark":{"type":"rule","strokeWidth":0.6},"encoding":{"x":{"field":"bp","type":"quantitative","scale":{"domain":[86.8,194.1],"nice":false,"zero":false},"axis":{"orient":"top","values":[90,100,110,120,130,140,150,160,170,180,190],"labelExpr":"(datum.value - 90) % 20 == 0 ? datum.label : ''","title":null,"labelFlush":false,"labelOverlap":false}},"y":{"field":"row","type":"quantitative","scale":{"domain":[0,3],"range":[22.5,47]},"axis":null},"y2":{"field":"base"},"stroke":{"field":"dye","type":"nominal","scale":{"domain":["blue","red","black","green"],"range":["#9a9ad2","#e49494","#9e9e9e","#8ccb90"]},"legend":null}}},
{"data":{"name":"alleles"},"transform":[{"filter":"datum.p == 3"}],"mark":{"type":"point","shape":"M-1,-0.44L1,-0.44L1,0.44L-1,0.44Z","filled":true,"fill":"white","fillOpacity":1,"opacity":1,"strokeWidth":0.7,"size":255},"encoding":{"x":{"field":"bp","type":"quantitative","scale":{"domain":[86.8,194.1],"nice":false,"zero":false},"axis":{"orient":"top","values":[90,100,110,120,130,140,150,160,170,180,190],"labelExpr":"(datum.value - 90) % 20 == 0 ? datum.label : ''","title":null,"labelFlush":false,"labelOverlap":false}},"y":{"field":"row","type":"quantitative","scale":{"domain":[0,3],"range":[22.5,47]},"axis":null},"stroke":{"field":"dye","type":"nominal","scale":{"domain":["blue","red","black","green"],"range":["#9a9ad2","#e49494","#9e9e9e","#8ccb90"]},"legend":null}}},
{"data":{"name":"alleles"},"transform":[{"filter":"datum.p == 3"}],"mark":{"type":"text","font":"Liberation Serif","fontSize":6,"color":"#333","baseline":"middle"},"encoding":{"x":{"field":"bp","type":"quantitative","scale":{"domain":[86.8,194.1],"nice":false,"zero":false},"axis":{"orient":"top","values":[90,100,110,120,130,140,150,160,170,180,190],"labelExpr":"(datum.value - 90) % 20 == 0 ? datum.label : ''","title":null,"labelFlush":false,"labelOverlap":false}},"y":{"field":"row","type":"quantitative","scale":{"domain":[0,3],"range":[22.5,47]},"axis":null},"text":{"field":"label","type":"nominal"}}}
]},
{"width":317,"height":23,"resolve":{"scale":{"y":"independent"}},"layer":[
{"data":{"values":[{"k":1}]},"transform":[{"calculate":"95.0","as":"x0"},{"calculate":"216.9","as":"x1"},{"calculate":"0","as":"t0"},{"calculate":"1","as":"t1"}],"mark":{"type":"rect","filled":false,"stroke":"#b4b4b4","strokeWidth":0.9,"cornerRadius":2.5},"encoding":{"x":{"field":"x0","type":"quantitative","scale":{"domain":[104.8,215.4],"nice":false,"zero":false},"axis":{"orient":"top","values":[110,120,130,140,150,160,170,180,190,200,210],"labelExpr":"(datum.value - 110) % 20 == 0 ? datum.label : ''","title":null,"labelFlush":false,"labelOverlap":false}},"x2":{"field":"x1"},"y":{"field":"t0","type":"quantitative","scale":{"domain":[0,1],"range":[-17.7,51]},"axis":null},"y2":{"field":"t1"}}},
{"data":{"name":"markers"},"transform":[{"filter":"datum.p == 4"},{"calculate":"0","as":"t0"},{"calculate":"1","as":"t1"}],"mark":{"type":"rect","fill":"#c3c3c3","stroke":"#8a8a8a","strokeWidth":0.6},"encoding":{"x":{"field":"start","type":"quantitative","scale":{"domain":[104.8,215.4],"nice":false,"zero":false},"axis":{"orient":"top","values":[110,120,130,140,150,160,170,180,190,200,210],"labelExpr":"(datum.value - 110) % 20 == 0 ? datum.label : ''","title":null,"labelFlush":false,"labelOverlap":false}},"x2":{"field":"end"},"y":{"field":"t0","type":"quantitative","scale":{"domain":[0,1],"range":[-16,-10]},"axis":null},"y2":{"field":"t1"}}},
{"data":{"name":"markers"},"transform":[{"filter":"datum.p == 4"},{"calculate":"(datum.start + datum.end) / 2","as":"mid"},{"calculate":"0.5","as":"tm"}],"mark":{"type":"text","font":"Liberation Sans","fontSize":5,"color":"#222","baseline":"middle"},"encoding":{"x":{"field":"mid","type":"quantitative","scale":{"domain":[104.8,215.4],"nice":false,"zero":false},"axis":{"orient":"top","values":[110,120,130,140,150,160,170,180,190,200,210],"labelExpr":"(datum.value - 110) % 20 == 0 ? datum.label : ''","title":null,"labelFlush":false,"labelOverlap":false}},"y":{"field":"tm","type":"quantitative","scale":{"domain":[0,1],"range":[-16,-10]},"axis":null},"text":{"field":"name","type":"nominal"}}},
{"data":{"name":"trace"},"transform":[{"filter":"datum.p == 4"}],"mark":{"type":"line","strokeWidth":0.7},"encoding":{"x":{"field":"bp","type":"quantitative","scale":{"domain":[104.8,215.4],"nice":false,"zero":false},"axis":{"orient":"top","values":[110,120,130,140,150,160,170,180,190,200,210],"labelExpr":"(datum.value - 110) % 20 == 0 ? datum.label : ''","title":null,"labelFlush":false,"labelOverlap":false}},"y":{"field":"rfu","type":"quantitative","scale":{"domain":[-150,8700],"nice":false,"zero":false},"axis":{"values":[0,4500],"format":"d","title":null,"labelOverlap":false}},"color":{"field":"dye","type":"nominal","scale":{"domain":["blue","red","black","green"],"range":["#3535c8","#d63333","#1a1a1a","#2e9e36"]},"legend":null},"detail":{"field":"c","type":"nominal"}}},
{"data":{"name":"alleles"},"transform":[{"filter":"datum.p == 4"},{"calculate":"0","as":"base"}],"mark":{"type":"rule","strokeWidth":0.6},"encoding":{"x":{"field":"bp","type":"quantitative","scale":{"domain":[104.8,215.4],"nice":false,"zero":false},"axis":{"orient":"top","values":[110,120,130,140,150,160,170,180,190,200,210],"labelExpr":"(datum.value - 110) % 20 == 0 ? datum.label : ''","title":null,"labelFlush":false,"labelOverlap":false}},"y":{"field":"row","type":"quantitative","scale":{"domain":[0,3],"range":[22.5,47]},"axis":null},"y2":{"field":"base"},"stroke":{"field":"dye","type":"nominal","scale":{"domain":["blue","red","black","green"],"range":["#9a9ad2","#e49494","#9e9e9e","#8ccb90"]},"legend":null}}},
{"data":{"name":"alleles"},"transform":[{"filter":"datum.p == 4"}],"mark":{"type":"point","shape":"M-1,-0.44L1,-0.44L1,0.44L-1,0.44Z","filled":true,"fill":"white","fillOpacity":1,"opacity":1,"strokeWidth":0.7,"size":255},"encoding":{"x":{"field":"bp","type":"quantitative","scale":{"domain":[104.8,215.4],"nice":false,"zero":false},"axis":{"orient":"top","values":[110,120,130,140,150,160,170,180,190,200,210],"labelExpr":"(datum.value - 110) % 20 == 0 ? datum.label : ''","title":null,"labelFlush":false,"labelOverlap":false}},"y":{"field":"row","type":"quantitative","scale":{"domain":[0,3],"range":[22.5,47]},"axis":null},"stroke":{"field":"dye","type":"nominal","scale":{"domain":["blue","red","black","green"],"range":["#9a9ad2","#e49494","#9e9e9e","#8ccb90"]},"legend":null}}},
{"data":{"name":"alleles"},"transform":[{"filter":"datum.p == 4"}],"mark":{"type":"text","font":"Liberation Serif","fontSize":6,"color":"#333","baseline":"middle"},"encoding":{"x":{"field":"bp","type":"quantitative","scale":{"domain":[104.8,215.4],"nice":false,"zero":false},"axis":{"orient":"top","values":[110,120,130,140,150,160,170,180,190,200,210],"labelExpr":"(datum.value - 110) % 20 == 0 ? datum.label : ''","title":null,"labelFlush":false,"labelOverlap":false}},"y":{"field":"row","type":"quantitative","scale":{"domain":[0,3],"range":[22.5,47]},"axis":null},"text":{"field":"label","type":"nominal"}}}
]},
{"width":317,"height":23,"resolve":{"scale":{"y":"independent"}},"layer":[
{"data":{"values":[{"k":1}]},"transform":[{"calculate":"84.3","as":"x0"},{"calculate":"206.1","as":"x1"},{"calculate":"0","as":"t0"},{"calculate":"1","as":"t1"}],"mark":{"type":"rect","filled":false,"stroke":"#b4b4b4","strokeWidth":0.9,"cornerRadius":2.5},"encoding":{"x":{"field":"x0","type":"quantitative","scale":{"domain":[94.1,204.6],"nice":false,"zero":false},"axis":{"orient":"top","values":[100,110,120,130,140,150,160,170,180,190,200],"labelExpr":"datum.value % 20 == 0 ? datum.label : ''","title":null,"labelFlush":false,"labelOverlap":false}},"x2":{"field":"x1"},"y":{"field":"t0","type":"quantitative","scale":{"domain":[0,1],"range":[-17.7,51.5]},"axis":null},"y2":{"field":"t1"}}},
{"data":{"name":"markers"},"transform":[{"filter":"datum.p == 5"},{"calculate":"0","as":"t0"},{"calculate":"1","as":"t1"}],"mark":{"type":"rect","fill":"#c3c3c3","stroke":"#8a8a8a","strokeWidth":0.6},"encoding":{"x":{"field":"start","type":"quantitative","scale":{"domain":[94.1,204.6],"nice":false,"zero":false},"axis":{"orient":"top","values":[100,110,120,130,140,150,160,170,180,190,200],"labelExpr":"datum.value % 20 == 0 ? datum.label : ''","title":null,"labelFlush":false,"labelOverlap":false}},"x2":{"field":"end"},"y":{"field":"t0","type":"quantitative","scale":{"domain":[0,1],"range":[-16,-10]},"axis":null},"y2":{"field":"t1"}}},
{"data":{"name":"markers"},"transform":[{"filter":"datum.p == 5"},{"calculate":"(datum.start + datum.end) / 2","as":"mid"},{"calculate":"0.5","as":"tm"}],"mark":{"type":"text","font":"Liberation Sans","fontSize":5,"color":"#222","baseline":"middle"},"encoding":{"x":{"field":"mid","type":"quantitative","scale":{"domain":[94.1,204.6],"nice":false,"zero":false},"axis":{"orient":"top","values":[100,110,120,130,140,150,160,170,180,190,200],"labelExpr":"datum.value % 20 == 0 ? datum.label : ''","title":null,"labelFlush":false,"labelOverlap":false}},"y":{"field":"tm","type":"quantitative","scale":{"domain":[0,1],"range":[-16,-10]},"axis":null},"text":{"field":"name","type":"nominal"}}},
{"data":{"name":"trace"},"transform":[{"filter":"datum.p == 5"}],"mark":{"type":"line","strokeWidth":0.7},"encoding":{"x":{"field":"bp","type":"quantitative","scale":{"domain":[94.1,204.6],"nice":false,"zero":false},"axis":{"orient":"top","values":[100,110,120,130,140,150,160,170,180,190,200],"labelExpr":"datum.value % 20 == 0 ? datum.label : ''","title":null,"labelFlush":false,"labelOverlap":false}},"y":{"field":"rfu","type":"quantitative","scale":{"domain":[-100,6100],"nice":false,"zero":false},"axis":{"values":[0,3100],"format":"d","title":null,"labelOverlap":false}},"color":{"field":"dye","type":"nominal","scale":{"domain":["blue","red","black","green"],"range":["#3535c8","#d63333","#1a1a1a","#2e9e36"]},"legend":null},"detail":{"field":"c","type":"nominal"}}},
{"data":{"name":"alleles"},"transform":[{"filter":"datum.p == 5"},{"calculate":"0","as":"base"}],"mark":{"type":"rule","strokeWidth":0.6},"encoding":{"x":{"field":"bp","type":"quantitative","scale":{"domain":[94.1,204.6],"nice":false,"zero":false},"axis":{"orient":"top","values":[100,110,120,130,140,150,160,170,180,190,200],"labelExpr":"datum.value % 20 == 0 ? datum.label : ''","title":null,"labelFlush":false,"labelOverlap":false}},"y":{"field":"row","type":"quantitative","scale":{"domain":[0,3],"range":[22.5,47]},"axis":null},"y2":{"field":"base"},"stroke":{"field":"dye","type":"nominal","scale":{"domain":["blue","red","black","green"],"range":["#9a9ad2","#e49494","#9e9e9e","#8ccb90"]},"legend":null}}},
{"data":{"name":"alleles"},"transform":[{"filter":"datum.p == 5"}],"mark":{"type":"point","shape":"M-1,-0.44L1,-0.44L1,0.44L-1,0.44Z","filled":true,"fill":"white","fillOpacity":1,"opacity":1,"strokeWidth":0.7,"size":255},"encoding":{"x":{"field":"bp","type":"quantitative","scale":{"domain":[94.1,204.6],"nice":false,"zero":false},"axis":{"orient":"top","values":[100,110,120,130,140,150,160,170,180,190,200],"labelExpr":"datum.value % 20 == 0 ? datum.label : ''","title":null,"labelFlush":false,"labelOverlap":false}},"y":{"field":"row","type":"quantitative","scale":{"domain":[0,3],"range":[22.5,47]},"axis":null},"stroke":{"field":"dye","type":"nominal","scale":{"domain":["blue","red","black","green"],"range":["#9a9ad2","#e49494","#9e9e9e","#8ccb90"]},"legend":null}}},
{"data":{"name":"alleles"},"transform":[{"filter":"datum.p == 5"}],"mark":{"type":"text","font":"Liberation Serif","fontSize":6,"color":"#333","baseline":"middle"},"encoding":{"x":{"field":"bp","type":"quantitative","scale":{"domain":[94.1,204.6],"nice":false,"zero":false},"axis":{"orient":"top","values":[100,110,120,130,140,150,160,170,180,190,200],"labelExpr":"datum.value % 20 == 0 ? datum.label : ''","title":null,"labelFlush":false,"labelOverlap":false}},"y":{"field":"row","type":"quantitative","scale":{"domain":[0,3],"range":[22.5,47]},"axis":null},"text":{"field":"label","type":"nominal"}}}
]},
{"width":317,"height":23,"resolve":{"scale":{"y":"independent"}},"layer":[
{"data":{"values":[{"k":1}]},"transform":[{"calculate":"70.35","as":"x0"},{"calculate":"284.3","as":"x1"},{"calculate":"0","as":"t0"},{"calculate":"1","as":"t1"}],"mark":{"type":"rect","filled":false,"stroke":"#b4b4b4","strokeWidth":0.9,"cornerRadius":2.5},"encoding":{"x":{"field":"x0","type":"quantitative","scale":{"domain":[87.5,281.7],"nice":false,"zero":false},"axis":{"orient":"top","values":[100,120,140,160,180,200,220,240,260,280],"labelExpr":"(datum.value - 100) % 40 == 0 ? datum.label : ''","title":null,"labelFlush":false,"labelOverlap":false}},"x2":{"field":"x1"},"y":{"field":"t0","type":"quantitative","scale":{"domain":[0,1],"range":[-18.5,45]},"axis":null},"y2":{"field":"t1"}}},
{"data":{"name":"markers"},"transform":[{"filter":"datum.p == 6"},{"calculate":"0","as":"t0"},{"calculate":"1","as":"t1"}],"mark":{"type":"rect","fill":"#c3c3c3","stroke":"#8a8a8a","strokeWidth":0.6},"encoding":{"x":{"field":"start","type":"quantitative","scale":{"domain":[87.5,281.7],"nice":false,"zero":false},"axis":{"orient":"top","values":[100,120,140,160,180,200,220,240,260,280],"labelExpr":"(datum.value - 100) % 40 == 0 ? datum.label : ''","title":null,"labelFlush":false,"labelOverlap":false}},"x2":{"field":"end"},"y":{"field":"t0","type":"quantitative","scale":{"domain":[0,1],"range":[-16,-10]},"axis":null},"y2":{"field":"t1"}}},
{"data":{"name":"markers"},"transform":[{"filter":"datum.p == 6"},{"calculate":"(datum.start + datum.end) / 2","as":"mid"},{"calculate":"0.5","as":"tm"}],"mark":{"type":"text","font":"Liberation Sans","fontSize":5,"color":"#222","baseline":"middle"},"encoding":{"x":{"field":"mid","type":"quantitative","scale":{"domain":[87.5,281.7],"nice":false,"zero":false},"axis":{"orient":"top","values":[100,120,140,160,180,200,220,240,260,280],"labelExpr":"(datum.value - 100) % 40 == 0 ? datum.label : ''","title":null,"labelFlush":false,"labelOverlap":false}},"y":{"field":"tm","type":"quantitative","scale":{"domain":[0,1],"range":[-16,-10]},"axis":null},"text":{"field":"name","type":"nominal"}}},
{"data":{"name":"trace"},"transform":[{"filter":"datum.p == 6"}],"mark":{"type":"line","strokeWidth":0.7},"encoding":{"x":{"field":"bp","type":"quantitative","scale":{"domain":[87.5,281.7],"nice":false,"zero":false},"axis":{"orient":"top","values":[100,120,140,160,180,200,220,240,260,280],"labelExpr":"(datum.value - 100) % 40 == 0 ? datum.label : ''","title":null,"labelFlush":false,"labelOverlap":false}},"y":{"field":"rfu","type":"quantitative","scale":{"domain":[-80,6400],"nice":false,"zero":false},"axis":{"values":[0,3000],"format":"d","title":null,"labelOverlap":false}},"color":{"field":"dye","type":"nominal","scale":{"domain":["blue","red","black","green"],"range":["#3535c8","#d63333","#1a1a1a","#2e9e36"]},"legend":null},"detail":{"field":"c","type":"nominal"}}},
{"data":{"name":"alleles"},"transform":[{"filter":"datum.p == 6"},{"calculate":"0","as":"base"}],"mark":{"type":"rule","strokeWidth":0.6},"encoding":{"x":{"field":"bp","type":"quantitative","scale":{"domain":[87.5,281.7],"nice":false,"zero":false},"axis":{"orient":"top","values":[100,120,140,160,180,200,220,240,260,280],"labelExpr":"(datum.value - 100) % 40 == 0 ? datum.label : ''","title":null,"labelFlush":false,"labelOverlap":false}},"y":{"field":"row","type":"quantitative","scale":{"domain":[0,3],"range":[22.5,47]},"axis":null},"y2":{"field":"base"},"stroke":{"field":"dye","type":"nominal","scale":{"domain":["blue","red","black","green"],"range":["#9a9ad2","#e49494","#9e9e9e","#8ccb90"]},"legend":null}}},
{"data":{"name":"alleles"},"transform":[{"filter":"datum.p == 6"}],"mark":{"type":"point","shape":"M-1,-0.44L1,-0.44L1,0.44L-1,0.44Z","filled":true,"fill":"white","fillOpacity":1,"opacity":1,"strokeWidth":0.7,"size":255},"encoding":{"x":{"field":"bp","type":"quantitative","scale":{"domain":[87.5,281.7],"nice":false,"zero":false},"axis":{"orient":"top","values":[100,120,140,160,180,200,220,240,260,280],"labelExpr":"(datum.value - 100) % 40 == 0 ? datum.label : ''","title":null,"labelFlush":false,"labelOverlap":false}},"y":{"field":"row","type":"quantitative","scale":{"domain":[0,3],"range":[22.5,47]},"axis":null},"stroke":{"field":"dye","type":"nominal","scale":{"domain":["blue","red","black","green"],"range":["#9a9ad2","#e49494","#9e9e9e","#8ccb90"]},"legend":null}}},
{"data":{"name":"alleles"},"transform":[{"filter":"datum.p == 6"}],"mark":{"type":"text","font":"Liberation Serif","fontSize":6,"color":"#333","baseline":"middle"},"encoding":{"x":{"field":"bp","type":"quantitative","scale":{"domain":[87.5,281.7],"nice":false,"zero":false},"axis":{"orient":"top","values":[100,120,140,160,180,200,220,240,260,280],"labelExpr":"(datum.value - 100) % 40 == 0 ? datum.label : ''","title":null,"labelFlush":false,"labelOverlap":false}},"y":{"field":"row","type":"quantitative","scale":{"domain":[0,3],"range":[22.5,47]},"axis":null},"text":{"field":"label","type":"nominal"}}}
]},
{"width":317,"height":23,"resolve":{"scale":{"y":"independent"}},"layer":[
{"data":{"values":[{"k":1}]},"transform":[{"calculate":"62.75","as":"x0"},{"calculate":"282.9","as":"x1"},{"calculate":"0","as":"t0"},{"calculate":"1","as":"t1"}],"mark":{"type":"rect","filled":false,"stroke":"#b4b4b4","strokeWidth":0.9,"cornerRadius":2.5},"encoding":{"x":{"field":"x0","type":"quantitative","scale":{"domain":[80.4,280.2],"nice":false,"zero":false},"axis":{"orient":"top","values":[100,120,140,160,180,200,220,240,260,280],"labelExpr":"(datum.value - 100) % 40 == 0 ? datum.label : ''","title":null,"labelFlush":false,"labelOverlap":false}},"x2":{"field":"x1"},"y":{"field":"t0","type":"quantitative","scale":{"domain":[0,1],"range":[-19,38]},"axis":null},"y2":{"field":"t1"}}},
{"data":{"name":"markers"},"transform":[{"filter":"datum.p == 7"},{"calculate":"0","as":"t0"},{"calculate":"1","as":"t1"}],"mark":{"type":"rect","fill":"#c3c3c3","stroke":"#8a8a8a","strokeWidth":0.6},"encoding":{"x":{"field":"start","type":"quantitative","scale":{"domain":[80.4,280.2],"nice":false,"zero":false},"axis":{"orient":"top","values":[100,120,140,160,180,200,220,240,260,280],"labelExpr":"(datum.value - 100) % 40 == 0 ? datum.label : ''","title":null,"labelFlush":false,"labelOverlap":false}},"x2":{"field":"end"},"y":{"field":"t0","type":"quantitative","scale":{"domain":[0,1],"range":[-16,-10]},"axis":null},"y2":{"field":"t1"}}},
{"data":{"name":"markers"},"transform":[{"filter":"datum.p == 7"},{"calculate":"(datum.start + datum.end) / 2","as":"mid"},{"calculate":"0.5","as":"tm"}],"mark":{"type":"text","font":"Liberation Sans","fontSize":5,"color":"#222","baseline":"middle"},"encoding":{"x":{"field":"mid","type":"quantitative","scale":{"domain":[80.4,280.2],"nice":false,"zero":false},"axis":{"orient":"top","values":[100,120,140,160,180,200,220,240,260,280],"labelExpr":"(datum.value - 100) % 40 == 0 ? datum.label : ''","title":null,"labelFlush":false,"labelOverlap":false}},"y":{"field":"tm","type":"quantitative","scale":{"domain":[0,1],"range":[-16,-10]},"axis":null},"text":{"field":"name","type":"nominal"}}},
{"data":{"name":"trace"},"transform":[{"filter":"datum.p == 7"}],"mark":{"type":"line","strokeWidth":0.7},"encoding":{"x":{"field":"bp","type":"quantitative","scale":{"domain":[80.4,280.2],"nice":false,"zero":false},"axis":{"orient":"top","values":[100,120,140,160,180,200,220,240,260,280],"labelExpr":"(datum.value - 100) % 40 == 0 ? datum.label : ''","title":null,"labelFlush":false,"labelOverlap":false}},"y":{"field":"rfu","type":"quantitative","scale":{"domain":[-100,6150],"nice":false,"zero":false},"axis":{"values":[0,3000],"format":"d","title":null,"labelOverlap":false}},"color":{"field":"dye","type":"nominal","scale":{"domain":["blue","red","black","green"],"range":["#3535c8","#d63333","#1a1a1a","#2e9e36"]},"legend":null},"detail":{"field":"c","type":"nominal"}}},
{"data":{"name":"alleles"},"transform":[{"filter":"datum.p == 7"},{"calculate":"0","as":"base"}],"mark":{"type":"rule","strokeWidth":0.6},"encoding":{"x":{"field":"bp","type":"quantitative","scale":{"domain":[80.4,280.2],"nice":false,"zero":false},"axis":{"orient":"top","values":[100,120,140,160,180,200,220,240,260,280],"labelExpr":"(datum.value - 100) % 40 == 0 ? datum.label : ''","title":null,"labelFlush":false,"labelOverlap":false}},"y":{"field":"row","type":"quantitative","scale":{"domain":[0,3],"range":[22.5,47]},"axis":null},"y2":{"field":"base"},"stroke":{"field":"dye","type":"nominal","scale":{"domain":["blue","red","black","green"],"range":["#9a9ad2","#e49494","#9e9e9e","#8ccb90"]},"legend":null}}},
{"data":{"name":"alleles"},"transform":[{"filter":"datum.p == 7"}],"mark":{"type":"point","shape":"M-1,-0.44L1,-0.44L1,0.44L-1,0.44Z","filled":true,"fill":"white","fillOpacity":1,"opacity":1,"strokeWidth":0.7,"size":255},"encoding":{"x":{"field":"bp","type":"quantitative","scale":{"domain":[80.4,280.2],"nice":false,"zero":false},"axis":{"orient":"top","values":[100,120,140,160,180,200,220,240,260,280],"labelExpr":"(datum.value - 100) % 40 == 0 ? datum.label : ''","title":null,"labelFlush":false,"labelOverlap":false}},"y":{"field":"row","type":"quantitative","scale":{"domain":[0,3],"range":[22.5,47]},"axis":null},"stroke":{"field":"dye","type":"nominal","scale":{"domain":["blue","red","black","green"],"range":["#9a9ad2","#e49494","#9e9e9e","#8ccb90"]},"legend":null}}},
{"data":{"name":"alleles"},"transform":[{"filter":"datum.p == 7"}],"mark":{"type":"text","font":"Liberation Serif","fontSize":6,"color":"#333","baseline":"middle"},"encoding":{"x":{"field":"bp","type":"quantitative","scale":{"domain":[80.4,280.2],"nice":false,"zero":false},"axis":{"orient":"top","values":[100,120,140,160,180,200,220,240,260,280],"labelExpr":"(datum.value - 100) % 40 == 0 ? datum.label : ''","title":null,"labelFlush":false,"labelOverlap":false}},"y":{"field":"row","type":"quantitative","scale":{"domain":[0,3],"range":[22.5,47]},"axis":null},"text":{"field":"label","type":"nominal"}}}
]},
{"width":317,"height":23,"resolve":{"scale":{"y":"independent"}},"layer":[
{"data":{"values":[{"k":1}]},"transform":[{"calculate":"40.9","as":"x0"},{"calculate":"256.7","as":"x1"},{"calculate":"0","as":"t0"},{"calculate":"1","as":"t1"}],"mark":{"type":"rect","filled":false,"stroke":"#b4b4b4","strokeWidth":0.9,"cornerRadius":2.5},"encoding":{"x":{"field":"x0","type":"quantitative","scale":{"domain":[58.2,254.0],"nice":false,"zero":false},"axis":{"orient":"top","values":[60,80,100,120,140,160,180,200,220,240],"labelExpr":"(datum.value - 60) % 40 == 0 ? datum.label : ''","title":null,"labelFlush":false,"labelOverlap":false}},"x2":{"field":"x1"},"y":{"field":"t0","type":"quantitative","scale":{"domain":[0,1],"range":[-17.5,47]},"axis":null},"y2":{"field":"t1"}}},
{"data":{"name":"markers"},"transform":[{"filter":"datum.p == 8"},{"calculate":"0","as":"t0"},{"calculate":"1","as":"t1"}],"mark":{"type":"rect","fill":"#c3c3c3","stroke":"#8a8a8a","strokeWidth":0.6},"encoding":{"x":{"field":"start","type":"quantitative","scale":{"domain":[58.2,254.0],"nice":false,"zero":false},"axis":{"orient":"top","values":[60,80,100,120,140,160,180,200,220,240],"labelExpr":"(datum.value - 60) % 40 == 0 ? datum.label : ''","title":null,"labelFlush":false,"labelOverlap":false}},"x2":{"field":"end"},"y":{"field":"t0","type":"quantitative","scale":{"domain":[0,1],"range":[-16,-10]},"axis":null},"y2":{"field":"t1"}}},
{"data":{"name":"markers"},"transform":[{"filter":"datum.p == 8"},{"calculate":"(datum.start + datum.end) / 2","as":"mid"},{"calculate":"0.5","as":"tm"}],"mark":{"type":"text","font":"Liberation Sans","fontSize":5,"color":"#222","baseline":"middle"},"encoding":{"x":{"field":"mid","type":"quantitative","scale":{"domain":[58.2,254.0],"nice":false,"zero":false},"axis":{"orient":"top","values":[60,80,100,120,140,160,180,200,220,240],"labelExpr":"(datum.value - 60) % 40 == 0 ? datum.label : ''","title":null,"labelFlush":false,"labelOverlap":false}},"y":{"field":"tm","type":"quantitative","scale":{"domain":[0,1],"range":[-16,-10]},"axis":null},"text":{"field":"name","type":"nominal"}}},
{"data":{"name":"trace"},"transform":[{"filter":"datum.p == 8"}],"mark":{"type":"line","strokeWidth":0.7},"encoding":{"x":{"field":"bp","type":"quantitative","scale":{"domain":[58.2,254.0],"nice":false,"zero":false},"axis":{"orient":"top","values":[60,80,100,120,140,160,180,200,220,240],"labelExpr":"(datum.value - 60) % 40 == 0 ? datum.label : ''","title":null,"labelFlush":false,"labelOverlap":false}},"y":{"field":"rfu","type":"quantitative","scale":{"domain":[-100,5000],"nice":false,"zero":false},"axis":{"values":[0,2500],"format":"d","title":null,"labelOverlap":false}},"color":{"field":"dye","type":"nominal","scale":{"domain":["blue","red","black","green"],"range":["#3535c8","#d63333","#1a1a1a","#2e9e36"]},"legend":null},"detail":{"field":"c","type":"nominal"}}},
{"data":{"name":"alleles"},"transform":[{"filter":"datum.p == 8"},{"calculate":"0","as":"base"}],"mark":{"type":"rule","strokeWidth":0.6},"encoding":{"x":{"field":"bp","type":"quantitative","scale":{"domain":[58.2,254.0],"nice":false,"zero":false},"axis":{"orient":"top","values":[60,80,100,120,140,160,180,200,220,240],"labelExpr":"(datum.value - 60) % 40 == 0 ? datum.label : ''","title":null,"labelFlush":false,"labelOverlap":false}},"y":{"field":"row","type":"quantitative","scale":{"domain":[0,3],"range":[22.5,47]},"axis":null},"y2":{"field":"base"},"stroke":{"field":"dye","type":"nominal","scale":{"domain":["blue","red","black","green"],"range":["#9a9ad2","#e49494","#9e9e9e","#8ccb90"]},"legend":null}}},
{"data":{"name":"alleles"},"transform":[{"filter":"datum.p == 8"}],"mark":{"type":"point","shape":"M-1,-0.44L1,-0.44L1,0.44L-1,0.44Z","filled":true,"fill":"white","fillOpacity":1,"opacity":1,"strokeWidth":0.7,"size":255},"encoding":{"x":{"field":"bp","type":"quantitative","scale":{"domain":[58.2,254.0],"nice":false,"zero":false},"axis":{"orient":"top","values":[60,80,100,120,140,160,180,200,220,240],"labelExpr":"(datum.value - 60) % 40 == 0 ? datum.label : ''","title":null,"labelFlush":false,"labelOverlap":false}},"y":{"field":"row","type":"quantitative","scale":{"domain":[0,3],"range":[22.5,47]},"axis":null},"stroke":{"field":"dye","type":"nominal","scale":{"domain":["blue","red","black","green"],"range":["#9a9ad2","#e49494","#9e9e9e","#8ccb90"]},"legend":null}}},
{"data":{"name":"alleles"},"transform":[{"filter":"datum.p == 8"}],"mark":{"type":"text","font":"Liberation Serif","fontSize":6,"color":"#333","baseline":"middle"},"encoding":{"x":{"field":"bp","type":"quantitative","scale":{"domain":[58.2,254.0],"nice":false,"zero":false},"axis":{"orient":"top","values":[60,80,100,120,140,160,180,200,220,240],"labelExpr":"(datum.value - 60) % 40 == 0 ? datum.label : ''","title":null,"labelFlush":false,"labelOverlap":false}},"y":{"field":"row","type":"quantitative","scale":{"domain":[0,3],"range":[22.5,47]},"axis":null},"text":{"field":"label","type":"nominal"}}}
]}
]
}
